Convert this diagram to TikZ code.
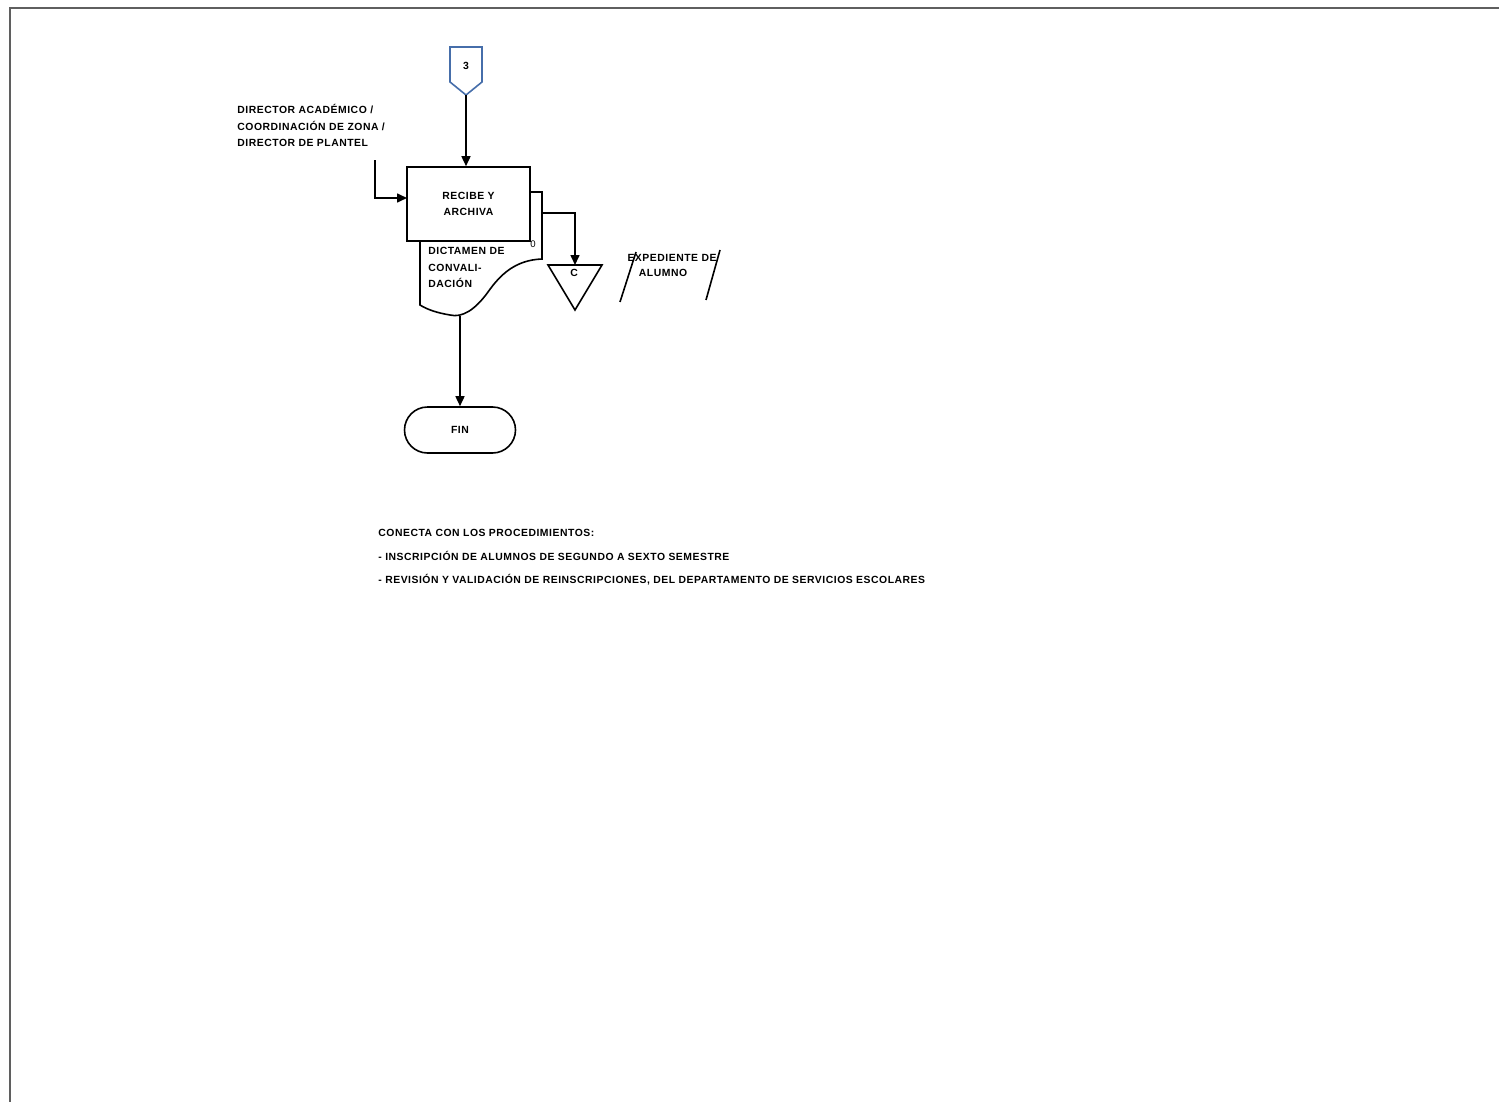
\documentclass[tikz,border=0pt]{standalone}
\usepackage{fontspec}
\setmainfont{Liberation Sans}[LetterSpace=5]
\usetikzlibrary{arrows.meta}
\definecolor{frame}{RGB}{95,95,95}
\definecolor{conblue}{RGB}{70,110,170}
\begin{document}
\begin{tikzpicture}[x=0.5pt,y=-0.5pt,
  txt/.style={font=\fontsize{5.2}{8.2}\selectfont\bfseries, inner sep=0pt},
  shp/.style={draw=black, line width=0.8pt, fill=white},
  conn/.style={draw=black, line width=0.8pt, -{Triangle[length=5pt,width=4.5pt]}},
  plain/.style={draw=black, line width=0.8pt}]
\useasboundingbox (0,0) rectangle (1499,1102);
% page frame
\draw[frame, line width=1pt] (9,8.5) -- (1499,8.5);
\draw[frame, line width=1pt] (10,8) -- (10,1102);

% off-page connector 3
\draw[draw=conblue, line width=0.8pt, fill=white] (450,47) -- (482,47) -- (482,82) -- (466,95) -- (450,82) -- cycle;
\node[txt] (c3) at (466,66) {3};
\coordinate (c3b) at (466,95);

% responsible label
\node[txt, anchor=base west] (r1) at (237,114) {DIRECTOR ACADÉMICO /};
\node[txt, anchor=base west] (r2) at (237,131) {COORDINACIÓN DE ZONA /};
\node[txt, anchor=base west] (r3) at (237,147) {DIRECTOR DE PLANTEL};
\coordinate (rs) at (375,160);
\coordinate (inA) at (407,198);

% document (behind)
\draw[shp] (530,192) -- (542,192) -- (542,259) .. controls (515,260) and (500,275) .. (488,292)
  .. controls (475,310) and (462,318) .. (450,315) .. controls (438,313) and (428,310) .. (420,305) -- (420,238);
\node[txt, anchor=north west, align=left] (doc) at (428,247) {DICTAMEN DE\\CONVALI-\\DACIÓN};
\node[txt, font=\fontsize{4.8}{5}\selectfont] (pg) at (533,244) {0};
\coordinate (docR) at (542,213);
\coordinate (docB) at (460,316);

% process box
\node[shp, minimum width=61.5pt, minimum height=37pt, inner sep=0pt, align=center,
  font=\fontsize{5.2}{8}\selectfont\bfseries] (recibe) at (468.5,204) {RECIBE Y\\ARCHIVA};

% merge triangle (archive)
\draw[shp] (548,265) -- (602,265) -- (575,310) -- cycle;
\node[txt] (arc) at (574,273) {C};
\coordinate (tri) at (575,265);

% expediente annotation
\node[txt] (e1) at (672,258) {EXPEDIENTE DE};
\node[txt] (e2) at (663,273) {ALUMNO};
\draw[plain] (620,302) -- (636,252);
\draw[plain] (706,300) -- (720,250);

% terminator
\node[shp, minimum width=55.5pt, minimum height=23pt, rounded corners=11.5pt, inner sep=0pt,
  font=\fontsize{5.2}{6}\selectfont\bfseries] (fin) at (460,430) {FIN};

% connectors
\draw[conn] (c3b) -- (c3b |- recibe.north);
\draw[conn] (rs) |- (inA);
\draw[conn] (docR) -| (tri);
\draw[conn] (docB) -- (fin.north);

% notes
\node[txt, anchor=base west] (n1) at (378,536) {CONECTA CON LOS PROCEDIMIENTOS:};
\node[txt, anchor=base west] (n2) at (378,560) {- INSCRIPCIÓN DE ALUMNOS DE SEGUNDO A SEXTO SEMESTRE};
\node[txt, anchor=base west] (n3) at (378,583) {- REVISIÓN Y VALIDACIÓN DE REINSCRIPCIONES, DEL DEPARTAMENTO DE SERVICIOS ESCOLARES};
\end{tikzpicture}
\end{document}
